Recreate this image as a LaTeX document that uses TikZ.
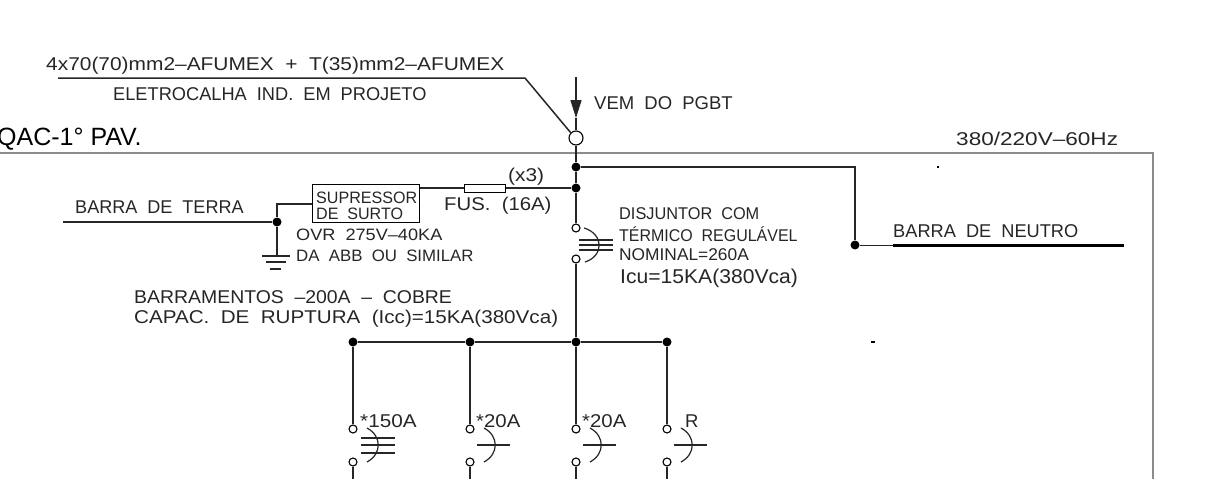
\documentclass[tikz,border=0pt]{standalone}
\usepackage{fontspec}
\setmainfont{Liberation Sans}
\usepackage{graphicx}
\usepackage{tikz}
\usetikzlibrary{arrows.meta}

\newcommand{\cadfont}{\fontsize{18.5}{19}\selectfont}
\newcommand{\cadsize}[1]{\fontsize{#1}{#1}\selectfont}
\newcommand{\wide}[2]{\scalebox{#1}[1]{#2}}

\tikzset{
    wire/.style={line width=1.5pt, black!85},
    cadtext/.style={anchor=west, inner sep=0pt, yshift=-1pt, text=black!85, font=\cadfont, execute at begin node={\spaceskip 0.55em\relax}},
    plaintext/.style={anchor=west, inner sep=0pt, yshift=-1pt, font=\fontsize{25}{26}\selectfont},
    dot/.style={circle, fill=black, inner sep=0pt, minimum size=9pt},
    terminal/.style={circle, draw, line width=1.1pt, fill=white, inner sep=0pt, minimum size=8pt},
    trip/.style={line width=1.2pt, black!85},
}

\begin{document}
\begin{tikzpicture}[x=1pt,y=-1pt]
        \useasboundingbox (0,0) rectangle (1222,479);
        \clip (0,0) rectangle (1222,479);

        % Panel outline

        \coordinate (panelleft) at (0,153);
        \coordinate (panelcorner) at (1153,153);
        \coordinate (panelend) at (1153,479);
        \draw[line width=1.3pt, black!45] (panelleft) -- (panelcorner) -- (panelend);

        % Feeder

        \coordinate (feedtop) at (576,77);
        \coordinate (feedtip) at (576,118);
        \node[terminal, minimum size=14pt, fill=none] (entry) at (576,138) {};
        \coordinate (leaderstart) at (58,78);
        \coordinate (leaderbend) at (525,78);
        \draw[wire, -{Triangle[length=18pt,width=11pt]}] (feedtop) -- (feedtip);
        \draw[wire] (feedtip) -- (entry.north);
        \draw[wire] (leaderstart) -- (leaderbend) -- (entry.north west);

        % Neutral and surge branch

        \node[dot] (neutral) at (576,167) {};
        \node[dot] (surge) at (576,188) {};
        \node[dot] (neutralbar) at (855,245) {};
        \coordinate (neutralbend) at (855,167);
        \coordinate (neutralthick) at (893,245);
        \coordinate (neutralend) at (1124,245);
        \draw[wire] (entry.south) -- (neutral);
        \draw[wire] (neutral) -- (surge);
        \draw[wire] (neutral) -- (neutralbend) -- (neutralbar);
        \draw[wire, line width=1pt] (neutralbar) -- (neutralthick);
        \draw[line width=3pt] (neutralthick) -- (neutralend);

        \node[draw, line width=1pt, minimum width=107pt, minimum height=38pt, inner sep=0pt] (suppressor) at (365.5,203) {};
        \node[draw, line width=1pt, minimum width=41pt, minimum height=8pt, inner sep=0pt] (fuse) at (485,188) {};
        \draw[wire] (surge) -- (fuse.east);
        \draw[wire] (fuse.west) -- (suppressor.east |- fuse.west);

        % Earth

        \node[dot] (earth) at (277,222) {};
        \coordinate (earthbar) at (63,222);
        \coordinate (earthtop) at (277,204);
        \coordinate (ground) at (277,256);
        \draw[wire] (earthbar) -- (earth);
        \draw[wire] (suppressor.west |- earthtop) -- (earthtop) -- (earth);
        \draw[wire] (earth) -- (ground);
        \draw[trip] (262,256) -- (290,256);
        \draw[trip] (266,262) -- (286,262);
        \draw[trip] (270,269) -- (281,269);

        % Main breaker

        \node[terminal] (mainin) at (576,228) {};
        \node[terminal] (mainout) at (576,259) {};
        \node[dot] (busmain) at (576,342) {};
        \draw[wire] (surge) -- (mainin);
        \draw[wire] (mainout) -- (busmain);
        \draw[trip] (584,228) .. controls (604,234) and (604,256) .. (585,262);
        \foreach \y in {240,245,250}
            \draw[trip] (579,\y) -- (613,\y);

        % Busbar and branches

        \node[dot] (busa) at (353,342) {};
        \node[dot] (busb) at (470,342) {};
        \node[dot] (busc) at (667,342) {};
        \draw[wire] (busa) -- (busb);
        \draw[wire] (busb) -- (busmain);
        \draw[wire] (busmain) -- (busc);

        \foreach \name/\bus/\x in {a/busa/353, b/busb/470, m/busmain/576, c/busc/667} {
            \node[terminal] (in\name) at (\x,429) {};
            \node[terminal] (out\name) at (\x,462) {};
            \coordinate (end\name) at (\x,479);
            \draw[wire] (\bus) -- (in\name);
            \draw[wire] (out\name) -- (end\name);
            \draw[trip] (\x+14,428) .. controls (\x+29,436) and (\x+29,454) .. (\x+14,462);
        }
        \foreach \y in {438,445,453}
            \draw[trip] (361,\y) -- (395,\y);
        \foreach \x in {470,576,667}
            \draw[trip] (\x+7,445) -- (\x+40,445);

        % Stray marks

        \node[fill=black, inner sep=0pt, minimum width=1.5pt, minimum height=1.5pt] (straydot) at (938,167) {};
        \node[fill=black, inner sep=0pt, minimum width=4pt, minimum height=1.5pt] (straydash) at (873,342) {};

        % Labels

        \node[cadtext] (cable) at (46,65) {\wide{1.13}{4x70(70)mm2–AFUMEX + T(35)mm2–AFUMEX}};
        \node[cadtext] (tray) at (113,93) {\wide{0.985}{ELETROCALHA IND. EM PROJETO}};
        \node[plaintext] (panel) at (-3,138) {QAC-1° PAV.};
        \node[cadtext] (origin) at (594,102) {VEM DO PGBT};
        \node[cadtext] (voltage) at (956,138) {\wide{1.22}{380/220V–60Hz}};
        \node[cadtext] (earthlabel) at (75,206) {\wide{0.977}{BARRA DE TERRA}};
        \node[cadtext] (neutrallabel) at (893,230) {\wide{0.985}{BARRA DE NEUTRO}};
        \node[cadtext, font=\cadsize{16.5}] (supa) at (316,197) {\wide{0.975}{SUPRESSOR}};
        \node[cadtext, font=\cadsize{16.5}] (supb) at (316,213) {\wide{0.975}{DE SURTO}};
        \node[cadtext] (times) at (508,176) {\wide{1.13}{(x3)}};
        \node[cadtext] (fuselabel) at (444,205) {\wide{1.1}{FUS. (16A)}};
        \node[cadtext, font=\cadsize{16.5}] (ovr) at (296,234) {\wide{1.1}{OVR 275V–40KA}};
        \node[cadtext, font=\cadsize{16.5}] (abb) at (296,255) {\wide{1.02}{DA ABB OU SIMILAR}};
        \node[cadtext, font=\cadsize{17}] (disa) at (619,213) {\wide{0.96}{DISJUNTOR COM}};
        \node[cadtext, font=\cadsize{17}] (disb) at (619,233) {\wide{0.94}{TÉRMICO REGULÁVEL}};
        \node[cadtext, font=\cadsize{17}] (disc) at (619,254) {\wide{1.02}{NOMINAL=260A}};
        \node[cadtext, font=\cadsize{20}] (disd) at (620,277) {\wide{1.055}{Icu=15KA(380Vca)}};
        \node[cadtext] (busa1) at (134,296) {\wide{1.05}{BARRAMENTOS –200A – COBRE}};
        \node[cadtext] (busa2) at (134,318) {\wide{1.115}{CAPAC. DE RUPTURA (Icc)=15KA(380Vca)}};
        \node[cadtext] (rata) at (360,420) {\wide{1.12}{*150A}};
        \node[cadtext] (ratb) at (476,420) {\wide{1.1}{*20A}};
        \node[cadtext] (ratm) at (582,420) {\wide{1.1}{*20A}};
        \node[cadtext] (ratc) at (685,420) {R};
\end{tikzpicture}
\end{document}
